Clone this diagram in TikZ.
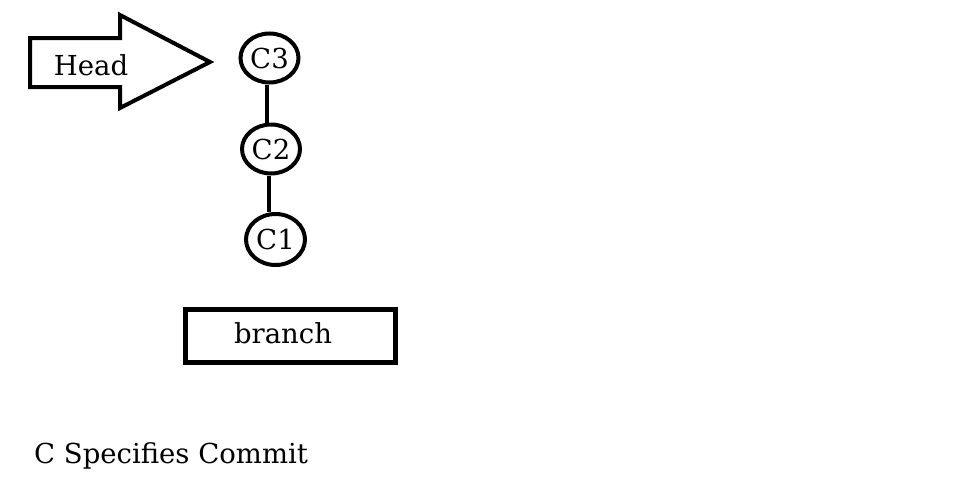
\documentclass[tikz,border=0pt]{standalone}
\usepackage{fontspec}
\setmainfont{DejaVu Serif}
\usetikzlibrary{shapes.geometric}
\begin{document}
\begin{tikzpicture}[x=1pt,y=-1pt,
  commit/.style={draw,ellipse,line width=4pt,inner sep=0pt,minimum width=58pt,minimum height=49pt,font=\fontsize{27.5}{32}\selectfont},
  txt/.style={inner sep=0pt,font=\fontsize{27.5}{32}\selectfont},
  link/.style={line width=4pt}]
\useasboundingbox (0,0) rectangle (968,482);
\draw[line width=4pt,line join=miter] (30,38) -- (120,38) -- (120,15) -- (210,62) -- (120,108) -- (120,87) -- (30,87) -- cycle;
\node[txt] (head) at (91,65) {Head};
\node[commit] (c3) at (269.5,58) {C3};
\node[commit] (c2) at (271,149) {C2};
\node[commit,minimum width=59pt,minimum height=51pt] (c1) at (275.5,239.5) {C1};
\draw[link] (c3.south -| 267,0) -- (c2.north -| 267,0);
\draw[link] (c2.south -| 269,0) -- (c1.north -| 269,0);
\node[draw,line width=4.5pt,minimum width=210pt,minimum height=53pt,inner sep=0pt] (branch) at (290.5,336) {};
\node[txt,anchor=base] (branchtxt) at (283,343) {branch};
\node[txt,anchor=base west] (legend) at (34,463) {C Specifies Commit};
\end{tikzpicture}
\end{document}
